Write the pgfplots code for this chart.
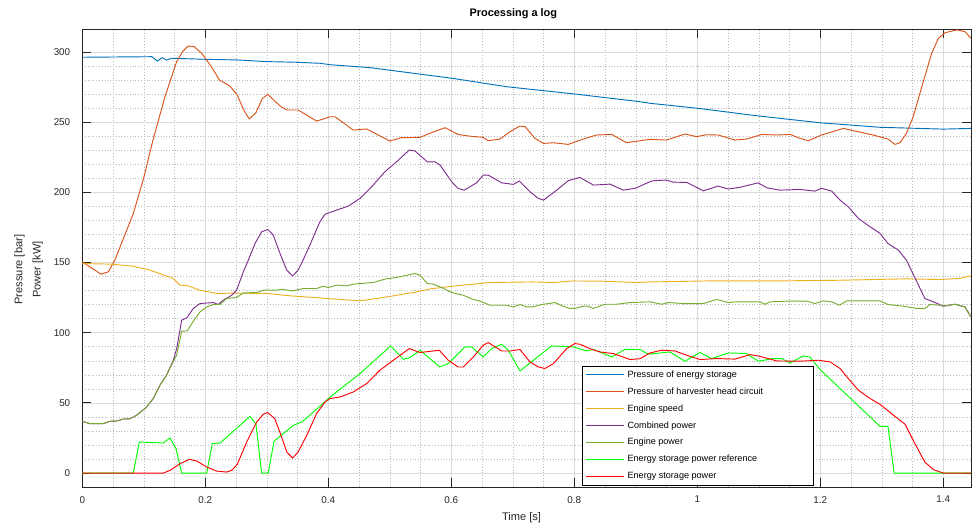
\documentclass[border=0pt]{standalone}
\usepackage{pgfplots}
\pgfplotsset{compat=1.18}
\usepackage{fontspec}
\setmainfont{Liberation Sans}
\definecolor{mblue}{rgb}{0,0.447,0.741}
\definecolor{morange}{rgb}{0.85,0.325,0.098}
\definecolor{myellow}{rgb}{0.929,0.694,0.125}
\definecolor{mpurple}{rgb}{0.494,0.184,0.556}
\definecolor{mgreen}{rgb}{0.466,0.674,0.188}
\definecolor{bgreen}{rgb}{0,1,0}
\definecolor{bred}{rgb}{1,0,0}
\definecolor{axgray}{rgb}{0.15,0.15,0.15}
\begin{document}
\begin{tikzpicture}
\begin{axis}[
  scale only axis, width=666.5pt, height=343.3pt,
  xmin=0, xmax=1.445, ymin=-10, ymax=316.2,
  xtick={0,0.2,0.4,0.6,0.8,1,1.2,1.4},
  ytick={0,50,100,150,200,250,300},
  minor x tick num=3, minor y tick num=4,
  grid=both,
  major grid style={color=black!14, line width=0.5pt},
  minor grid style={color=black!28, dash pattern=on 0.5pt off 1.6pt, line width=0.4pt},
  tick align=inside, major tick length=6.7pt, minor tick length=0pt,
  axis line style={color=axgray, line width=0.6pt},
  tick style={color=axgray, line width=0.6pt},
  ticklabel style={font=\fontsize{7.4}{9}\selectfont, color=axgray},
  /pgf/number format/assume math mode=true,
  yticklabel style={xshift=-5.5pt},
  xticklabel style={yshift=-3.3pt},
  title={Processing a log},
  every axis title/.style={at={(axis description cs:0.485,1)}, anchor=center, yshift=11.5pt, font=\bfseries\fontsize{8.2}{10}\selectfont, color=black},
  xlabel={Time [s]},
  xlabel style={at={(axis description cs:0.4943,0)}, anchor=center, yshift=-22.7pt, font=\fontsize{8.3}{10}\selectfont, color=axgray},
  ylabel={Pressure [bar]\\Power [kW]},
  ylabel style={align=center, at={([xshift=-40.2pt]axis description cs:0,0.475)}, anchor=center, rotate=0, font=\fontsize{8.3}{13.7}\selectfont, color=axgray},
  legend style={at={(axis description cs:0.5624,0.003)}, anchor=south west, draw=black, line width=0.5pt, fill=white,
    font=\fontsize{6.8}{8}\selectfont, inner xsep=2pt, inner ysep=2.5pt, row sep=4.3pt, column sep=1pt,
    nodes={inner sep=1pt, text height=5pt, text depth=1.4pt}, cells={anchor=west}},
  legend image code/.code={\draw[#1, line width=0.9pt] (0pt,0pt) -- (29pt,0pt);},
  every axis plot/.append style={line width=0.7pt},
]
\coordinate (SW) at (rel axis cs:0,0);
\coordinate (NE) at (rel axis cs:1,1);

\addplot[mblue] coordinates {(0,296.3) (0.113,296.7) (0.122,293.6) (0.13,296) (0.137,294.3) (0.145,295.6) (0.202,294.8) (0.251,294.4) (0.3,293.2) (0.343,292.8) (0.3865,292) (0.403,291) (0.468,288.9) (0.6016,281.3) (0.69,275.3) (0.801,270.1) (0.907,264.6) (0.923,263.5) (1.0016,259.9) (1.0966,254.6) (1.2,249.6) (1.297,246.4) (1.4,245.1) (1.445,245.6)};
\addlegendentry{\makebox[136pt][l]{Pressure of energy storage}}

\addplot[morange] coordinates {(0,150.5) (0.0304,141.7) (0.0423,143.4) (0.053,151.7) (0.083,185) (0.099,208.8) (0.115,237.3) (0.1345,268.2) (0.1535,293.2) (0.163,300.3) (0.172,304.3) (0.182,303.9) (0.194,299.1) (0.21,289.6) (0.223,280.1) (0.24,275.8) (0.252,269.4) (0.262,259.2) (0.2715,252.3) (0.2824,256.8) (0.2927,266.8) (0.3015,269.9) (0.3215,261.6) (0.3324,258.7) (0.351,258.7) (0.365,255.1) (0.381,250.8) (0.403,253.9) (0.411,253.9) (0.4407,244.4) (0.4624,245.2) (0.5,236.6) (0.519,239) (0.549,239.2) (0.565,242.1) (0.59,246.1) (0.611,241.3) (0.6276,240.2) (0.652,239.2) (0.66,236.8) (0.679,238) (0.698,243.9) (0.7117,247.3) (0.72,246.8) (0.736,238.5) (0.75,234.9) (0.766,235.4) (0.79,234.2) (0.8146,238) (0.836,240.9) (0.861,241.3) (0.885,235.4) (0.907,236.8) (0.923,237.8) (0.95,237.3) (0.98,241.6) (0.999,239.7) (1.015,241.1) (1.034,240.9) (1.061,237.3) (1.08,238) (1.105,241.3) (1.129,240.9) (1.151,241.3) (1.167,238.5) (1.1806,236.8) (1.202,240.9) (1.2375,245.6) (1.262,243.2) (1.286,240.9) (1.31,238) (1.3215,234.2) (1.3296,235.4) (1.34,242.1) (1.351,253.9) (1.365,275.3) (1.381,299.1) (1.392,309.8) (1.403,313.8) (1.422,315.8) (1.435,314.6) (1.445,309.8)};
\addlegendentry{Pressure of harvester head circuit}

\addplot[myellow] coordinates {(0,149.3) (0.045,148.9) (0.083,147.4) (0.11,144.6) (0.148,138.7) (0.159,133.9) (0.172,133.4) (0.191,130.3) (0.2185,128) (0.2455,128.2) (0.3,128) (0.338,126.3) (0.3865,124.8) (0.4515,122.7) (0.495,125.5) (0.5437,129.1) (0.565,131.2) (0.603,133.2) (0.663,135.8) (0.733,136.2) (0.766,135.8) (0.798,136.9) (0.847,136.7) (0.9015,135.8) (0.923,136.2) (1.015,136.9) (1.1236,136.9) (1.232,137.4) (1.34,138.4) (1.3946,137.9) (1.427,138.7) (1.445,140.5)};
\addlegendentry{Engine speed}

\addplot[mpurple] coordinates {(0,36.9) (0.0126,35.2) (0.034,35.2) (0.045,36.9) (0.056,37.1) (0.0667,38.5) (0.0776,38.7) (0.0884,41.2) (0.1047,47.1) (0.1154,53.1) (0.1263,62.6) (0.137,69.7) (0.148,80.4) (0.1535,88.7) (0.1616,108.9) (0.17,110.6) (0.1805,117.3) (0.1914,120.8) (0.213,121.5) (0.221,120.1) (0.229,123.2) (0.243,126.7) (0.251,130.3) (0.2618,143.4) (0.27,151.7) (0.2808,163.6) (0.2917,171.9) (0.3015,173.6) (0.3106,169.5) (0.3215,156.5) (0.3324,144.6) (0.342,140.5) (0.351,144.6) (0.359,151.7) (0.37,162.4) (0.3865,179.2) (0.3946,184.4) (0.4137,187.4) (0.4325,190.2) (0.4515,195.7) (0.4706,204) (0.492,214.7) (0.511,221.8) (0.5317,230.2) (0.541,229.5) (0.561,221.8) (0.5735,221.8) (0.5816,219.5) (0.6006,207.6) (0.611,202.9) (0.621,201.6) (0.641,206.8) (0.652,212.3) (0.66,212.3) (0.682,206.8) (0.701,205.7) (0.7106,208.1) (0.728,200.4) (0.7415,195.7) (0.75,194.5) (0.7714,201.6) (0.79,208.3) (0.809,210.7) (0.831,205.2) (0.858,205.9) (0.8797,201.6) (0.8987,202.9) (0.923,207.6) (0.9285,208.3) (0.95,208.8) (0.961,207.3) (0.983,207.1) (1.0098,201.1) (1.034,204.5) (1.0504,202.4) (1.069,203.6) (1.099,206.8) (1.113,203.3) (1.134,201.6) (1.167,202.1) (1.191,200.9) (1.202,202.9) (1.2186,200.9) (1.232,194.5) (1.2456,189.7) (1.262,181.4) (1.281,175.5) (1.297,170.8) (1.31,163.6) (1.327,158.8) (1.34,151.7) (1.354,139) (1.37,124.4) (1.384,122) (1.4,118.9) (1.419,120.3) (1.435,118.4) (1.445,111.3)};
\addlegendentry{Combined power}

\addplot[mgreen] coordinates {(0,36.9) (0.0126,35.2) (0.034,35.2) (0.045,36.9) (0.056,37.1) (0.0667,38.5) (0.0776,38.7) (0.0884,41.2) (0.1047,47.1) (0.1154,53.1) (0.1263,62.6) (0.137,69.7) (0.148,79.5) (0.1535,84) (0.1616,101.1) (0.1707,101.3) (0.1805,108.2) (0.1914,114.8) (0.2023,118.4) (0.213,120.1) (0.224,120.1) (0.2348,124.4) (0.251,125.1) (0.2618,128.4) (0.2836,128.6) (0.2943,130.3) (0.316,130.3) (0.3242,131) (0.342,129.8) (0.359,131.5) (0.381,131.5) (0.392,133.2) (0.4,132.2) (0.4137,133.9) (0.43,133.4) (0.4407,134.6) (0.473,135.8) (0.492,138.2) (0.511,139.4) (0.541,142.2) (0.549,141) (0.561,135.1) (0.5708,134.6) (0.5844,132.2) (0.6006,128.7) (0.6195,126.7) (0.6358,123.7) (0.6467,122.5) (0.663,119.6) (0.69,119.6) (0.701,118.4) (0.7117,120.1) (0.7226,118.4) (0.733,118.4) (0.747,120.1) (0.7686,121.5) (0.782,118.9) (0.793,117.3) (0.801,117.3) (0.8146,118.9) (0.823,118.9) (0.831,117.3) (0.85,120.3) (0.869,120.3) (0.8906,121.5) (0.923,122) (0.942,120.3) (0.953,121.5) (0.977,120.8) (1.0098,120.8) (1.0316,123.7) (1.0504,121.5) (1.064,122) (1.102,122) (1.11,120.3) (1.118,122) (1.1454,122.5) (1.178,122.5) (1.191,120.8) (1.205,122.7) (1.2186,122) (1.231,119.6) (1.243,122.7) (1.297,122.7) (1.31,120.1) (1.335,118.9) (1.3567,117.3) (1.37,117.3) (1.378,120.1) (1.3946,119.6) (1.4,118.9) (1.419,120.3) (1.435,118.4) (1.445,111.3)};
\addlegendentry{Engine power}

\addplot[bgreen] coordinates {(0,0) (0.083,0) (0.0927,22.1) (0.1317,21.4) (0.1426,25) (0.1524,17.4) (0.1616,0) (0.2023,0) (0.2114,21) (0.224,21.4) (0.2727,40.4) (0.2824,34.7) (0.2917,0) (0.3025,0) (0.3117,22.6) (0.343,34) (0.357,36.4) (0.3865,47.6) (0.403,54.2) (0.4515,70.9) (0.5015,90.6) (0.522,81.1) (0.533,82.3) (0.549,87.5) (0.5816,75.6) (0.595,78) (0.6223,89.9) (0.633,89.9) (0.652,82.7) (0.6657,88.7) (0.682,91.8) (0.6927,87.5) (0.7117,72.8) (0.763,90.6) (0.798,89.9) (0.82,87) (0.831,88.2) (0.861,82.7) (0.8824,88.2) (0.907,88) (0.92,84.7) (0.9556,86.3) (0.98,79.7) (1.0044,85.9) (1.0234,81.6) (1.0504,85.6) (1.08,85.2) (1.099,79.7) (1.1236,81.6) (1.137,81.6) (1.151,78.5) (1.1725,83.5) (1.183,82.7) (1.1995,73.8) (1.297,33.3) (1.31,33.3) (1.32,0) (1.445,0)};
\addlegendentry{Energy storage power reference}

\addplot[bred] coordinates {(0,0) (0.1317,0) (0.1426,1.9) (0.159,6.7) (0.174,9.8) (0.186,8.6) (0.2023,4.3) (0.2185,1.4) (0.2348,0.7) (0.243,1.9) (0.252,6.2) (0.2673,22.1) (0.2836,36.4) (0.2943,41.9) (0.3015,43.1) (0.313,38.8) (0.3242,25.7) (0.3324,15) (0.342,10.7) (0.351,15) (0.365,26.9) (0.381,42.4) (0.3946,50.6) (0.403,53.1) (0.419,54.2) (0.4407,57.8) (0.4624,63.8) (0.484,73.3) (0.5057,80.4) (0.5317,88.7) (0.549,85.9) (0.5805,87.5) (0.595,80.4) (0.611,75.6) (0.6195,75.6) (0.6358,82.7) (0.652,91.1) (0.66,93) (0.682,87) (0.6955,87) (0.7117,88) (0.728,79.2) (0.7415,75.6) (0.752,74.5) (0.766,78) (0.7876,88.7) (0.801,92.3) (0.809,91.8) (0.828,88.2) (0.8418,86.3) (0.863,85.2) (0.8906,80.9) (0.907,81.5) (0.923,85.6) (0.942,87.5) (0.9637,87) (0.983,83.9) (1.0044,80.9) (1.0316,81.6) (1.061,81.2) (1.0857,84.4) (1.102,83.2) (1.129,79.9) (1.167,79.7) (1.197,80.4) (1.216,79.2) (1.232,74.5) (1.2456,67.3) (1.262,59) (1.281,53.1) (1.297,49) (1.319,41.2) (1.338,34.7) (1.351,23.3) (1.37,7.8) (1.384,2.4) (1.4,0) (1.445,0)};
\addlegendentry{Energy storage power}
\end{axis}
\pgfresetboundingbox
\path ([xshift=-61.7pt,yshift=-30pt]SW) rectangle ([xshift=0.75pt,yshift=22pt]NE);
\end{tikzpicture}
\end{document}
